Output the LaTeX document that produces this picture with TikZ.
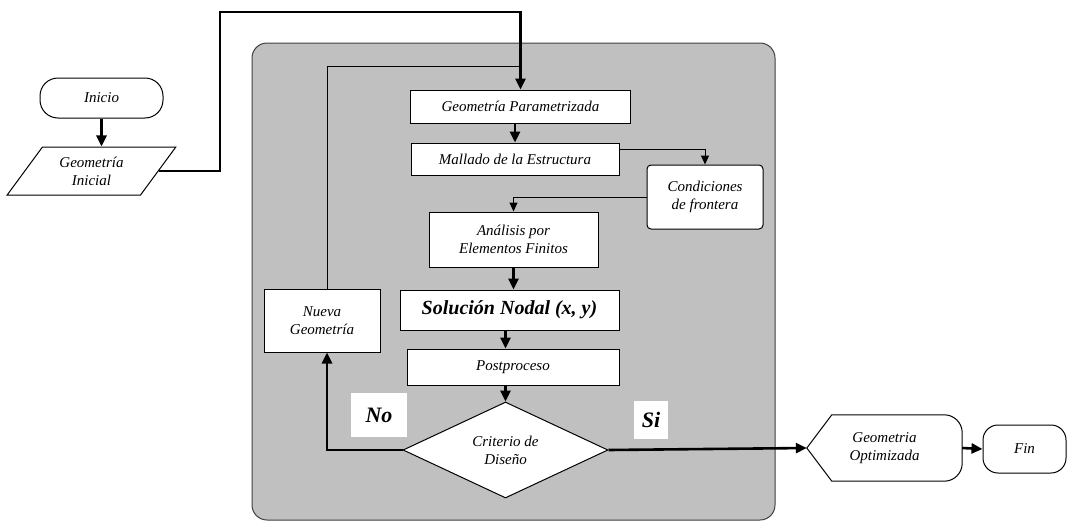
\documentclass[tikz,border=0pt]{standalone}
\usepackage{fontspec}
\setmainfont{Liberation Serif}
\usetikzlibrary{positioning}
\usetikzlibrary{calc}
\usetikzlibrary{shapes.geometric}
\usetikzlibrary{arrows.meta}

\definecolor{panelgray}{HTML}{C0C0C0}

\tikzset{
    txt/.style={align=center, font=\fontsize{15}{18}\selectfont\itshape},
    box/.style={txt, draw, fill=white, line width=1pt, inner sep=2pt},
    flow/.style={line width=2.6pt, -{Triangle[length=11pt,width=10pt]}},
    thin flow/.style={line width=1pt, -{Triangle[length=9pt,width=8pt]}},
    answer/.style={fill=white, inner sep=0pt,
        font=\fontsize{22}{24}\selectfont\bfseries\itshape},
}

\begin{document}
\begin{tikzpicture}[x=1pt, y=-1pt]

\useasboundingbox (0,0) rectangle (1068,522);

% optimisation loop
\draw [fill=panelgray, draw=black!75, line width=1pt, rounded corners=15pt]
    (252,43) rectangle (775,520);

\node [box, rounded corners=18pt, minimum width=123pt, minimum height=40pt]
    (inicio) at (101.5,98) {Inicio};
\node [
    box, trapezium, trapezium left angle=53, trapezium right angle=127,
    trapezium stretches=true, minimum width=169pt, minimum height=48pt]
    (geo inicial) at (91.5,171) {Geometría\\Inicial};

\node [box, minimum width=220pt, minimum height=33pt]
    (param) at (520.5,106.5) {Geometría Parametrizada};
\node [box, minimum width=208pt, minimum height=32pt]
    (mallado) at (515,159) {Mallado de la Estructura};
\node [box, rounded corners=4pt, minimum width=116pt, minimum height=64pt]
    (condiciones) at (705,197) {Condiciones\\de frontera};
\node [box, minimum width=169pt, minimum height=55pt]
    (analisis) at (513.5,239.5) {Análisis por\\Elementos Finitos};
\node [box, minimum width=219pt, minimum height=40pt,
    font=\fontsize{20}{24}\selectfont\bfseries\itshape]
    (solucion) at (509.5,310) {Solución Nodal (x, y)};
\node [box, minimum width=212pt, minimum height=36pt]
    (post) at (513,367) {Postproceso};
\node [box, diamond, inner sep=0pt, minimum width=205pt, minimum height=96pt]
    (criterio) at (505.5,450) {};
\node [txt] at (criterio) {Criterio de\\Diseño};
\node [box, minimum width=116pt, minimum height=63pt]
    (nueva) at (322,320.5) {Nueva\\Geometría};

\node [answer, minimum width=56pt, minimum height=44pt] (no) at (379,415) {No};
\node [answer, minimum width=34pt, minimum height=38pt] (si) at (651,420) {Si};

% output
\node [txt, inner sep=0pt, minimum width=155pt, minimum height=66pt]
    (optima) at (884.5,448) {Geometria\\Optimizada};
\draw [line width=1pt]
    (optima.west) -- ($(optima.north west)+(25,0)$)
    -- ($(optima.north east)+(-18,0)$) arc [start angle=90, end angle=0, radius=18pt]
    -- ($(optima.south east)+(0,-18)$) arc [start angle=0, end angle=-90, radius=18pt]
    -- ($(optima.south west)+(25,0)$) -- cycle;
\node [box, rounded corners=15pt, minimum width=83pt, minimum height=48pt]
    (fin) at (1024.5,449) {Fin};

\coordinate (entrada) at (220,12);

\draw [flow] (inicio.south) -- (inicio.south |- geo inicial.north);
\draw [flow] (geo inicial.east) -| (entrada) -| (param.north);
\draw [line width=1pt] ([xshift=5pt]nueva.north) |- ($(param.north)+(0,-23)$);
\draw [flow] (param.south -| mallado.north) -- (mallado.north);
\draw [thin flow] ([yshift=10pt]mallado.east) -| (condiciones.north);
\draw [thin flow] (condiciones.west) -| (analisis.north);
\draw [flow] (analisis.south) -- (analisis.south |- solucion.north);
\draw [flow] (solucion.south -| criterio.north) -- (post.north -| criterio.north);
\draw [flow] (post.south -| criterio.north) -- (criterio.north);
\draw [flow] (criterio.west) -| ([xshift=5pt]nueva.south);
\draw [flow] (criterio.east) -- (optima.west);
\draw [flow] (optima.east) -- (fin.west);

\end{tikzpicture}
\end{document}
